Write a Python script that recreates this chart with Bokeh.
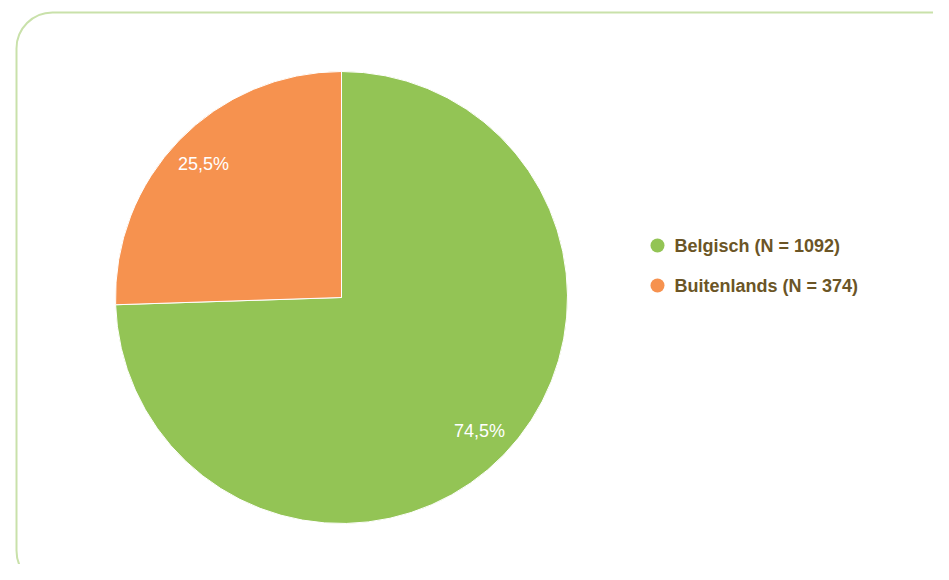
import math
from bokeh.plotting import figure
from bokeh.models import ColumnDataSource, Range1d
from bokeh.core.properties import value
from bokeh.embed import file_html
from bokeh.resources import INLINE

categories = ["Belgisch", "Buitenlands"]
counts = [1092, 374]
colors = ["#93c455", "#f6924f"]

W, H = 933, 564
p = figure(width=W, height=H, output_backend="svg", toolbar_location=None,
           x_range=Range1d(0, W), y_range=Range1d(0, H), min_border=0)
p.axis.visible = False
p.grid.visible = False
p.outline_line_color = None
p.background_fill_color = "white"
p.border_fill_color = "white"

# rounded frame
p.quad(left=[16], right=[971], top=[552], bottom=[-22], border_radius=36,
       fill_color=None, line_color="#c9e1aa", line_width=2)

total = sum(counts)
fracs = [c / total for c in counts]
starts, ends, lx, ly, labels = [], [], [], [], []
cx, cy, r = 341, 267, 226
a = math.pi / 2
for f in fracs:
    e = a - 2 * math.pi * f
    starts.append(a)
    ends.append(e)
    mid = (a + e) / 2
    lx.append(cx + 0.85 * r * math.cos(mid))
    ly.append(cy + 0.85 * r * math.sin(mid))
    labels.append(("%.1f%%" % (f * 100)).replace(".", ","))
    a = e

src = ColumnDataSource(dict(start=starts, end=ends, color=colors, lx=lx, ly=ly, label=labels))
p.wedge(x=cx, y=cy, radius=r, radius_units="screen", start_angle="start", end_angle="end",
        direction="clock", fill_color="color", line_color="white", line_width=1, source=src)
p.text(x="lx", y="ly", text="label", source=src, text_color="white",
       text_font=value("Liberation Sans"), text_font_size="18px",
       text_align="center", text_baseline="middle")

leg_labels = ["%s (N = %d)" % (c, n) for c, n in zip(categories, counts)]
leg_y = [319 - 40 * i for i in range(len(categories))]
lsrc = ColumnDataSource(dict(y=leg_y, color=colors, label=leg_labels))
p.scatter(x=657, y="y", size=14, marker="circle", fill_color="color", line_color=None, source=lsrc)
p.text(x=674, y="y", text="label", source=lsrc, text_color="#6b5526",
       text_font=value("Liberation Sans"), text_font_style="bold", text_font_size="18px",
       text_align="left", text_baseline="middle")

open("out.html", "w").write(file_html(p, INLINE))
